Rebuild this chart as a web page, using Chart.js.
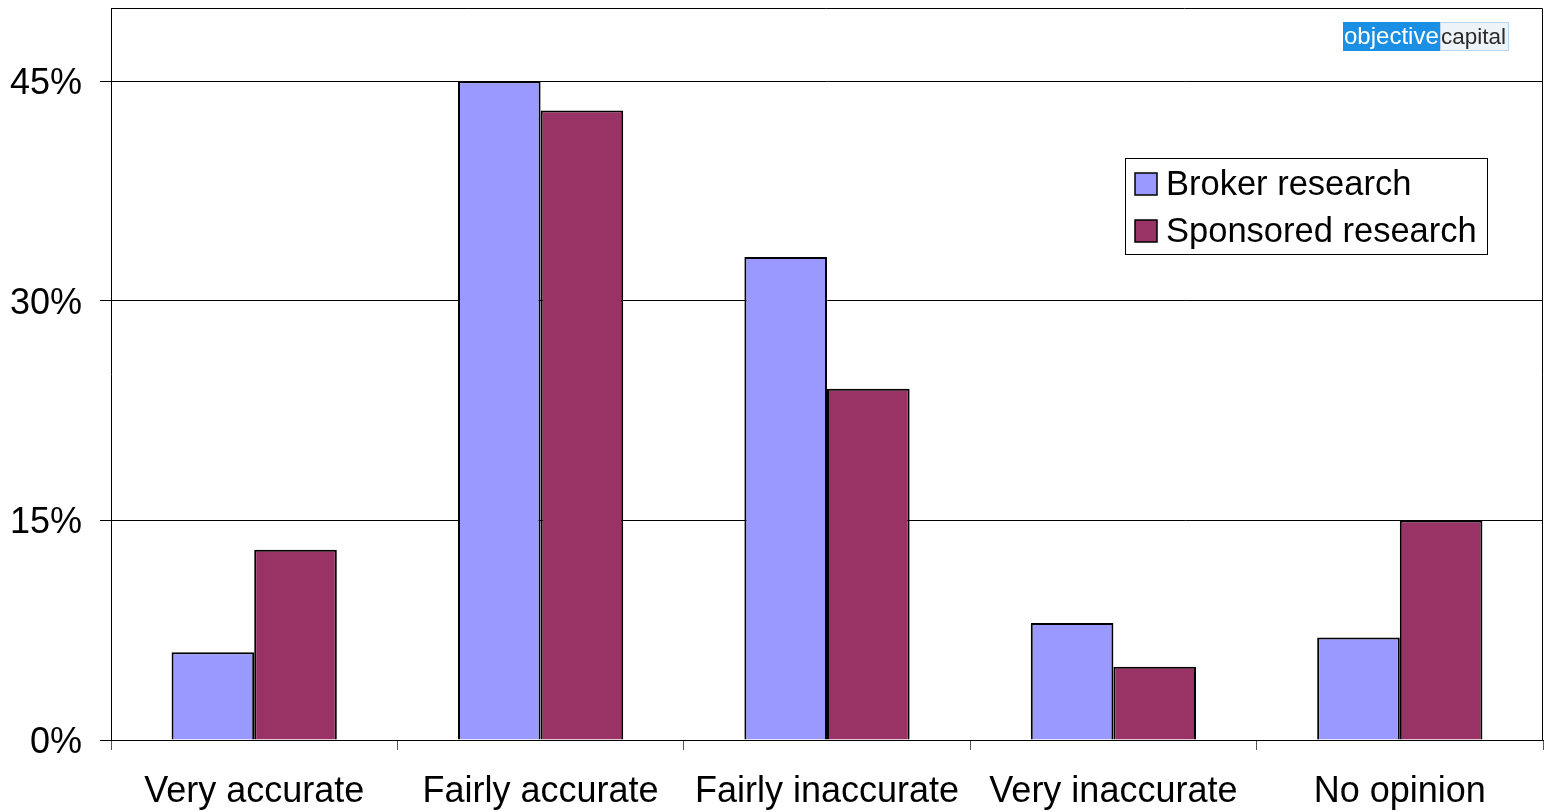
<!DOCTYPE html>
<html>
<head>
<meta charset="utf-8">
<script src="https://cdn.jsdelivr.net/npm/chart.js@4/dist/chart.umd.min.js"></script>
<style>
  html, body { margin: 0; padding: 0; background: #fff; }
  #wrap { width: 1546px; height: 812px; }
</style>
</head>
<body>
<div id="wrap"><canvas id="accuracyChart" width="1546" height="812"></canvas></div>
<script>
// survey answers, percent of respondents
const categories = ['Very accurate', 'Fairly accurate', 'Fairly inaccurate', 'Very inaccurate', 'No opinion'];
const brokerValues = [6, 45, 33, 8, 7];
const sponsoredValues = [13, 43, 24, 5, 15];
const seriesNames = ['Broker research', 'Sponsored research'];
const yTicks = [0, 15, 30, 45];

const FONT = '"Liberation Sans", Arial, sans-serif';

// frame on top/right of the plot + boxed legend + logo
const decorations = {
    id: 'decorations',
    afterDraw(chart) {
        const { ctx, chartArea: a } = chart;
        ctx.save();

        // plot frame
        ctx.strokeStyle = '#000';
        ctx.lineWidth = 1;
        ctx.beginPath();
        ctx.moveTo(a.left, a.top + 0.5);
        ctx.lineTo(a.right - 0.5, a.top + 0.5);
        ctx.lineTo(a.right - 0.5, a.bottom);
        ctx.stroke();

        // legend box
        const lx = 1125, ly = 158, lw = 362, lh = 96;
        ctx.fillStyle = '#fff';
        ctx.fillRect(lx, ly, lw, lh);
        ctx.strokeStyle = '#000';
        ctx.strokeRect(lx + 0.5, ly + 0.5, lw, lh);
        ctx.font = '34.5px ' + FONT;
        ctx.textBaseline = 'middle';
        chart.data.datasets.forEach((ds, i) => {
            const cy = 184 + i * 47;
            ctx.fillStyle = ds.backgroundColor;
            ctx.fillRect(1135, cy - 11, 22, 22);
            ctx.lineWidth = 1.5;
            ctx.strokeStyle = '#000';
            ctx.strokeRect(1135, cy - 11, 22, 22);
            ctx.fillStyle = '#000';
            ctx.fillText(ds.label, 1166, cy + 1);
        });

        // logo
        ctx.fillStyle = '#1a8fe3';
        ctx.fillRect(1343, 22, 97, 29);
        ctx.fillStyle = '#eef3f8';
        ctx.fillRect(1440, 22, 69, 29);
        ctx.strokeStyle = '#b9d6ee';
        ctx.lineWidth = 1;
        ctx.strokeRect(1440.5, 22.5, 68, 28);
        ctx.textBaseline = 'alphabetic';
        ctx.font = '24px ' + FONT;
        ctx.fillStyle = '#fff';
        ctx.fillText('objective', 1344, 44);
        ctx.font = '22.5px ' + FONT;
        ctx.fillStyle = '#2b2b2b';
        ctx.fillText('capital', 1441, 44);

        ctx.restore();
    }
};

const ctx = document.querySelector('#accuracyChart').getContext('2d');
new Chart(ctx, {
    type: 'bar',
    data: {
        labels: categories,
        datasets: [{
            label: seriesNames[0],
            data: brokerValues,
            backgroundColor: '#9999ff',
            borderColor: '#000',
            borderWidth: 2,
            categoryPercentage: 0.577,
            barPercentage: 1
        }, {
            label: seriesNames[1],
            data: sponsoredValues,
            backgroundColor: '#993366',
            borderColor: '#000',
            borderWidth: 2,
            categoryPercentage: 0.577,
            barPercentage: 1
        }]
    },
    options: {
        responsive: false,
        animation: false,
        layout: { padding: { top: 8, right: 3, left: 0, bottom: 0 } },
        plugins: {
            legend: { display: false },
            tooltip: { enabled: false }
        },
        scales: {
            x: {
                afterFit: s => { s.height = 72; },
                grid: {
                    offset: true,
                    drawOnChartArea: false,
                    drawTicks: true,
                    tickLength: 10,
                    color: '#555'
                },
                border: { display: true, color: '#000', width: 1 },
                ticks: {
                    color: '#000',
                    padding: 20,
                    maxRotation: 0,
                    autoSkip: false,
                    font: { family: FONT, size: 36 }
                }
            },
            y: {
                min: 0,
                max: 50,
                afterFit: s => { s.width = 111; s.paddingTop = 0; s.paddingBottom = 0; },
                afterBuildTicks: s => { s.ticks = yTicks.map(v => ({ value: v })); },
                grid: {
                    color: '#000',
                    lineWidth: 1,
                    tickLength: 11
                },
                border: { display: true, color: '#000', width: 1 },
                ticks: {
                    color: '#000',
                    padding: 18,
                    labelOffset: 3,
                    font: { family: FONT, size: 36 },
                    callback: v => v + '%'
                }
            }
        }
    },
    plugins: [decorations]
});
</script>
</body>
</html>
